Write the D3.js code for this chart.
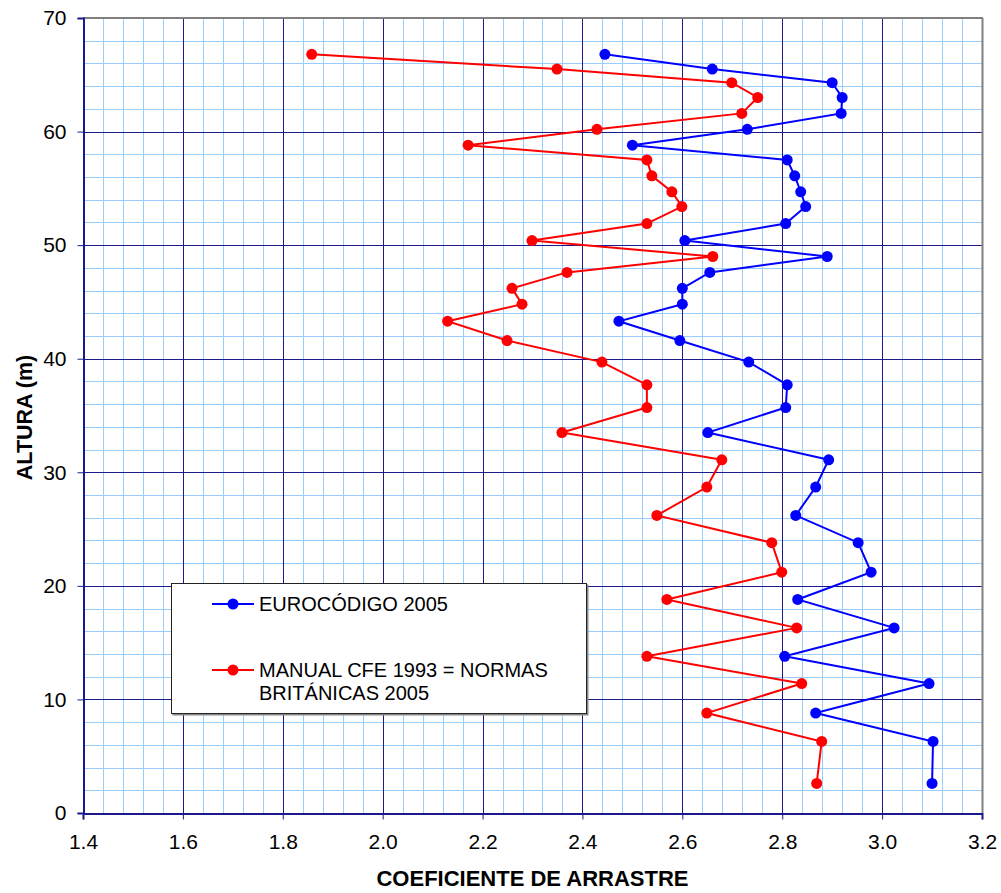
<!DOCTYPE html>
<html>
<head>
<meta charset="utf-8">
<script src="https://cdn.jsdelivr.net/npm/d3@7"></script>
<style>
  html, body { margin: 0; padding: 0; background: #fff; }
  svg { display: block; font-family: "Liberation Sans", Arial, sans-serif; }
</style>
</head>
<body>
<svg id="chart" width="1001" height="893"></svg>
<script>
// ---- data ----
const heights = [66.8, 65.5, 64.3, 63.0, 61.6, 60.2, 58.8, 57.5, 56.1, 54.7, 53.4, 51.9, 50.4, 49.0, 47.6,
                 46.2, 44.8, 43.3, 41.6, 39.7, 37.7, 35.7, 33.5, 31.1, 28.7, 26.2, 23.8, 21.2, 18.8, 16.3,
                 13.8, 11.4, 8.8, 6.3, 2.6];
const eurocodigo = [2.445, 2.66, 2.90, 2.92, 2.918, 2.73, 2.50, 2.81, 2.825, 2.837, 2.847, 2.807, 2.605, 2.89, 2.655,
                    2.60, 2.60, 2.473, 2.595, 2.733, 2.81, 2.807, 2.651, 2.893, 2.867, 2.827, 2.952, 2.978, 2.831, 3.024,
                    2.805, 3.094, 2.867, 3.102, 3.100];
const cfe = [1.858, 2.349, 2.699, 2.751, 2.719, 2.429, 2.171, 2.529, 2.539, 2.579, 2.599, 2.529, 2.299, 2.661, 2.369,
             2.259, 2.279, 2.130, 2.249, 2.439, 2.529, 2.529, 2.359, 2.679, 2.649, 2.549, 2.779, 2.799, 2.569, 2.829,
             2.529, 2.839, 2.649, 2.879, 2.869];
const seriesNames = ["EUROCÓDIGO 2005", "MANUAL CFE 1993 = NORMAS|BRITÁNICAS 2005"];
const seriesColors = ["#0000FF", "#FF0000"];
const xTicks = [1.4, 1.6, 1.8, 2.0, 2.2, 2.4, 2.6, 2.8, 3.0, 3.2];
const yTicks = [0, 10, 20, 30, 40, 50, 60, 70];
const xTitle = "COEFICIENTE DE ARRASTRE";
const yTitle = "ALTURA (m)";

// ---- layout ----
const svg = d3.select("#chart");
const L = 83, R = 982, T = 18, B = 813;
const x = d3.scaleLinear().domain([1.4, 3.2]).range([L, R]);
const y = d3.scaleLinear().domain([0, 70]).range([B, T]);

// minor grid
const minorX = d3.range(1.4, 3.2001, 0.04).map(v => +v.toFixed(2));
const minorY = d3.range(0, 70.001, 2);
const g = svg.append("g");
g.selectAll(".mx").data(minorX).join("line")
  .attr("x1", d => Math.round(x(d)) + 0.5).attr("x2", d => Math.round(x(d)) + 0.5)
  .attr("y1", T).attr("y2", B).attr("stroke", "#99CCFF").attr("stroke-width", 1);
g.selectAll(".my").data(minorY).join("line")
  .attr("y1", d => Math.round(y(d)) + 0.5).attr("y2", d => Math.round(y(d)) + 0.5)
  .attr("x1", L).attr("x2", R).attr("stroke", "#99CCFF").attr("stroke-width", 1);
// major grid
g.selectAll(".Mx").data(xTicks).join("line")
  .attr("x1", d => Math.round(x(d)) + 0.5).attr("x2", d => Math.round(x(d)) + 0.5)
  .attr("y1", T).attr("y2", B).attr("stroke", "#1a1a8c").attr("stroke-width", 1);
g.selectAll(".My").data(yTicks).join("line")
  .attr("y1", d => Math.round(y(d)) + 0.5).attr("y2", d => Math.round(y(d)) + 0.5)
  .attr("x1", L).attr("x2", R).attr("stroke", "#1a1a8c").attr("stroke-width", 1);

// plot frame: top/right gray
svg.append("line").attr("x1", L).attr("x2", R + 1).attr("y1", T).attr("y2", T)
  .attr("stroke", "#808080").attr("stroke-width", 2);
svg.append("line").attr("x1", R + 0.5).attr("x2", R + 0.5).attr("y1", T).attr("y2", B)
  .attr("stroke", "#808080").attr("stroke-width", 2);

// axes
const xAxis = d3.axisBottom(x).tickValues(xTicks).tickSize(6).tickPadding(15)
  .tickFormat(d3.format(".1f"));
const yAxis = d3.axisLeft(y).tickValues(yTicks).tickSize(6).tickPadding(11)
  .tickFormat(d3.format("d"));
const gx = svg.append("g").attr("transform", `translate(0,${B + 0.5})`).call(xAxis);
const gy = svg.append("g").attr("transform", `translate(${L + 0.5},0)`).call(yAxis);
[gx, gy].forEach(a => {
  a.select(".domain").attr("stroke", "#1a1a8c").attr("stroke-width", 2);
  a.selectAll(".tick line").attr("stroke", "#1a1a8c").attr("stroke-width", 1);
  a.selectAll(".tick text").attr("fill", "#000").attr("font-size", 21)
    .attr("font-family", "'Liberation Sans', Arial, sans-serif");
});

// titles
svg.append("text").attr("x", (L + R) / 2).attr("y", 886).attr("text-anchor", "middle")
  .attr("font-size", 22).attr("font-weight", "bold").text(xTitle);
svg.append("text").attr("transform", `translate(32,${(T + B) / 2 + 2}) rotate(-90)`)
  .attr("text-anchor", "middle").attr("font-size", 21.5).attr("font-weight", "bold").text(yTitle);

// series
const allSeries = [eurocodigo, cfe];
const line = d3.line().x(d => x(d[0])).y(d => y(d[1]));
allSeries.forEach((vals, i) => {
  const pts = vals.map((v, k) => [v, heights[k]]);
  svg.append("path").attr("d", line(pts)).attr("fill", "none")
    .attr("stroke", seriesColors[i]).attr("stroke-width", 2);
  svg.append("g").selectAll("circle").data(pts).join("circle")
    .attr("cx", d => x(d[0])).attr("cy", d => y(d[1])).attr("r", 5.5)
    .attr("fill", seriesColors[i]);
});

// legend
const lg = svg.append("g");
lg.append("rect").attr("x", 172.5).attr("y", 584.5).attr("width", 416).attr("height", 131)
  .attr("fill", "#888");
lg.append("rect").attr("x", 171.5).attr("y", 583.5).attr("width", 415).attr("height", 130)
  .attr("fill", "#fff").attr("stroke", "#222").attr("stroke-width", 1);
const legendY = [604, 670];
seriesNames.forEach((name, i) => {
  lg.append("line").attr("x1", 212).attr("x2", 254).attr("y1", legendY[i]).attr("y2", legendY[i])
    .attr("stroke", seriesColors[i]).attr("stroke-width", 2);
  lg.append("circle").attr("cx", 233).attr("cy", legendY[i]).attr("r", 5.5).attr("fill", seriesColors[i]);
  const t = lg.append("text").attr("x", 259).attr("y", legendY[i] + 7).attr("font-size", 20).attr("fill", "#000");
  name.split("|").forEach((part, j) => {
    t.append("tspan").attr("x", 259).attr("dy", j === 0 ? 0 : 23).text(part);
  });
});
</script>
</body>
</html>
